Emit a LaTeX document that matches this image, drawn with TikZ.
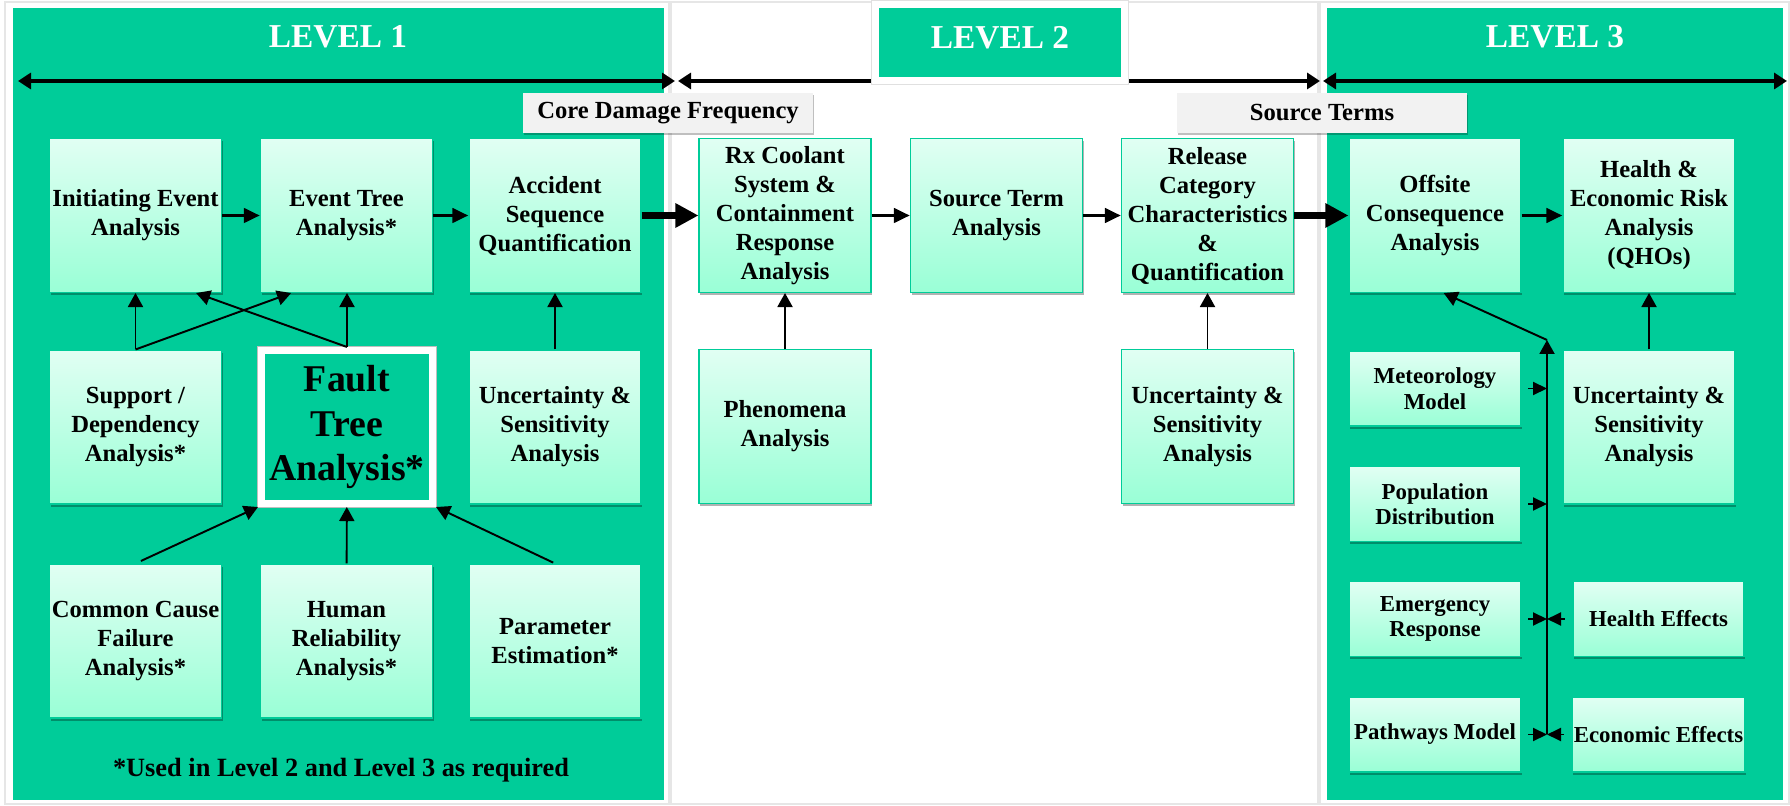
\documentclass[tikz,border=0pt]{standalone}
\usepackage{fontspec}
\setmainfont{Liberation Serif}
\usepackage{tikz}
\usetikzlibrary{arrows.meta, calc, positioning, shadows}
\definecolor{lvlgreen}{HTML}{00CC99}
\definecolor{boxtop}{HTML}{E1FFF3}
\definecolor{boxbot}{HTML}{99FFD6}
\definecolor{taggray}{HTML}{F2F2F2}
\definecolor{framegray}{HTML}{E6E6E6}
\tikzset{
  colframe/.style = {draw=framegray, line width=1.2pt, fill=white},
  stepbox/.style  = {rectangle, draw=lvlgreen, line width=0.6pt,
                     top color=boxtop, bottom color=boxbot,
                     minimum width=3.44cm, minimum height=3.08cm, inner sep=1pt,
                     align=center, font=\fontsize{14}{16.5}\selectfont\bfseries,
                     drop shadow={shadow xshift=0.6pt, shadow yshift=-1.6pt,
                                  opacity=0.3, fill=black}},
  smallbox/.style = {stepbox, minimum height=1.5cm,
                     font=\fontsize{13}{14.5}\selectfont\bfseries},
  ftbox/.style    = {rectangle, fill=lvlgreen, draw=white, line width=4pt,
                     minimum width=3.42cm, minimum height=3.06cm, inner sep=0pt,
                     align=center, font=\fontsize{21.5}{25.5}\selectfont\bfseries,
                     preaction={draw=black!25, line width=5.4pt}},
  lvltext/.style  = {text=white, font=\fontsize{19}{22}\selectfont\bfseries, inner sep=0pt},
  lvlbox/.style   = {lvltext, rectangle, fill=lvlgreen, draw=white, line width=4pt,
                     minimum width=4.98cm, minimum height=1.52cm, text depth=0.22cm,
                     preaction={draw=black!12, line width=5.6pt}},
  tagbox/.style   = {rectangle, fill=taggray, minimum width=5.8cm, minimum height=0.8cm,
                     inner sep=0pt, font=\fontsize{14}{16}\selectfont\bfseries,
                     drop shadow={shadow xshift=0.8pt, shadow yshift=-1.2pt,
                                  opacity=0.25, fill=black}},
  notetext/.style = {font=\fontsize{15}{17}\selectfont\bfseries, inner sep=0pt},
  arrmid/.style   = {-{Triangle[length=3.2mm, width=2.8mm]}, line width=2.2pt},
  arrfat/.style   = {-{Triangle[length=4.6mm, width=4.6mm]}, line width=4.2pt},
  arrthin/.style  = {-{Triangle[length=2.8mm, width=3mm]}, line width=1.1pt},
  arrbus/.style   = {-{Triangle[length=2.8mm, width=2.6mm]}, line width=1.1pt},
  arrspan/.style  = {{Triangle[length=2.6mm, width=3.2mm]}-{Triangle[length=2.6mm, width=3.2mm]},
                     line width=2.2pt},
}

\begin{document}
\begin{tikzpicture}[x=1cm, y=1cm]
  \fill[white] (0,0) rectangle (35.8,16.1);
  \useasboundingbox (0,0) rectangle (35.8,16.1);
  \draw[colframe] (0.10,0.02) rectangle (13.38,16.06);
  \draw[colframe] (13.42,0.02) rectangle (26.36,16.06);
  \draw[colframe] (26.40,0.02) rectangle (35.78,16.06);
  \fill[lvlgreen] (0.26,0.10) rectangle (13.28,15.94);
  \fill[lvlgreen] (26.54,0.10) rectangle (35.66,15.94);
  \coordinate (s1a) at (0.36,14.48);
  \coordinate (s1b) at (13.50,14.48);
  \coordinate (s2a) at (13.56,14.48);
  \coordinate (s2b) at (26.40,14.48);
  \coordinate (s3a) at (26.46,14.48);
  \coordinate (s3b) at (35.74,14.48);
  \draw[arrspan] (s1a) -- (s1b);
  \draw[arrspan] (s2a) -- (s2b);
  \draw[arrspan] (s3a) -- (s3b);
  \node[lvltext] (lvl1) at (6.76,15.36) {LEVEL 1};
  \node[lvlbox]  (lvl2) at (20.00,15.25) {LEVEL 2};
  \node[lvltext] (lvl3) at (31.10,15.36) {LEVEL 3};
  \node[tagbox] (cdf)  at (13.36,13.84) {Core Damage Frequency};
  \node[tagbox] (srct) at (26.44,13.84) {Source Terms};
  \node[stepbox] (ie)   at (2.71,11.79)  {Initiating Event\\Analysis};
  \node[stepbox] (et)   at (6.93,11.79)  {Event Tree\\Analysis*};
  \node[stepbox] (asq)  at (11.10,11.79) {Accident\\Sequence\\Quantification};
  \node[stepbox] (sup)  at (2.71,7.56)   {Support /\\Dependency\\Analysis*};
  \node[ftbox]   (ft)   at (6.94,7.56)   {Fault\\Tree\\Analysis*};
  \node[stepbox] (unc1) at (11.10,7.56)  {Uncertainty \&\\Sensitivity\\Analysis};
  \node[stepbox] (ccf)  at (2.71,3.28)   {Common Cause\\Failure\\Analysis*};
  \node[stepbox] (hra)  at (6.93,3.28)   {Human\\Reliability\\Analysis*};
  \node[stepbox] (pe)   at (11.10,3.28)  {Parameter\\Estimation*};
  \node[notetext] (note) at (6.82,0.70) {*Used in Level 2 and Level 3 as required};
  \node[stepbox] (rx)   at (15.70,11.79) {Rx Coolant\\System \&\\Containment\\Response\\Analysis};
  \node[stepbox] (st)   at (19.93,11.79) {Source Term\\Analysis};
  \node[stepbox] (rc)   at (24.15,11.79) {Release\\Category\\Characteristics\\\&\\Quantification};
  \node[stepbox] (phen) at (15.70,7.57)  {Phenomena\\Analysis};
  \node[stepbox] (unc2) at (24.15,7.57)  {Uncertainty \&\\Sensitivity\\Analysis};
  \node[stepbox] (off)  at (28.70,11.79) {Offsite\\Consequence\\Analysis};
  \node[stepbox] (her)  at (32.98,11.79) {Health \&\\Economic Risk\\Analysis\\(QHOs)};
  \node[stepbox] (unc3) at (32.98,7.56)  {Uncertainty \&\\Sensitivity\\Analysis};
  \node[smallbox] (met) at (28.70,8.33)  {Meteorology\\Model};
  \node[smallbox] (pop) at (28.70,6.02)  {Population\\Distribution};
  \node[smallbox] (emr) at (28.70,3.72)  {Emergency\\Response};
  \node[smallbox] (pwm) at (28.70,1.41)  {Pathways Model};
  \node[smallbox, minimum width=3.42cm] (hef) at (33.17,3.72) {Health Effects};
  \node[smallbox, minimum width=3.42cm] (eef) at (33.17,1.41) {Economic Effects};
  \draw[arrmid] (ie) -- (et);
  \draw[arrmid] (et) -- (asq);
  \draw[arrfat] (asq) -- (rx);
  \draw[arrmid] (rx) -- (st);
  \draw[arrmid] (st) -- (rc);
  \draw[arrfat] (rc) -- (off);
  \draw[arrmid] (off) -- (her);
  \draw[arrthin] (sup) -- (ie);
  \draw[arrthin] (sup.north) -- ($(et.south west)!0.18!(et.south east)$);
  \draw[arrthin] (ft.north) -- (ft.north |- et.south);
  \draw[arrthin] (ft.north) -- ($(ie.south west)!0.85!(ie.south east)$);
  \draw[arrthin] (unc1) -- (asq);
  \draw[arrthin, shorten <=1.2mm] (ccf.north) -- (ft.south west);
  \draw[arrthin] (hra) -- (ft);
  \draw[arrthin, shorten <=0.4mm] (pe.north) -- (ft.south east);
  \draw[arrthin] (phen) -- (rx);
  \draw[arrthin] (unc2) -- (rc);
  \draw[arrthin] (unc3) -- (her);
  \coordinate (bustop) at (30.94,9.30);
  \coordinate (busbot) at (30.94,1.42);
  \draw[arrthin] (busbot) -- (bustop);
  \draw[arrthin] (bustop) -- ($(off.south west)!0.55!(off.south east)$);
  \draw[arrbus, shorten <=1.3mm] (met.east) -- (met.east -| bustop);
  \draw[arrbus, shorten <=1.3mm] (pop.east) -- (pop.east -| bustop);
  \draw[arrbus, shorten <=1.3mm] (emr.east) -- (emr.east -| bustop);
  \draw[arrbus, shorten <=1.3mm] (pwm.east) -- (pwm.east -| bustop);
  \draw[arrbus, shorten <=1.5mm] (hef.west) -- (hef.west -| bustop);
  \draw[arrbus, shorten <=1.5mm] (eef.west) -- (eef.west -| bustop);
\end{tikzpicture}
\end{document}
